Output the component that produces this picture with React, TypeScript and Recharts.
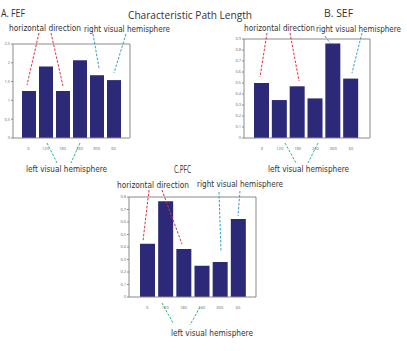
import React from 'react';
import { BarChart, Bar, XAxis, YAxis } from 'recharts';

// Direction categories (same order in all three panels)
const directions = ['0', '120', '180', '240', '300', '60'];

// Characteristic path length per direction
const fefValues = [1.25, 1.9, 1.25, 2.07, 1.67, 1.54];
const sefValues = [0.5, 0.345, 0.47, 0.36, 0.86, 0.54];
const pfcValues = [0.426, 0.766, 0.384, 0.25, 0.28, 0.625];

const fefTicks = [0, 0.5, 1, 1.5, 2, 2.5];
const sefTicks = [0, 0.1, 0.2, 0.3, 0.4, 0.5, 0.6, 0.7, 0.8, 0.9];
const pfcTicks = [0, 0.1, 0.2, 0.3, 0.4, 0.5, 0.6, 0.7, 0.8];

const BAR_COLOR = '#2d2979';
const BOX_COLOR = '#8a8a8a';
const RED = '#d9313f';
const CYAN = '#3b9cc4';
const GREEN = '#2fb38d';
const FONT = '"Open Sans", sans-serif';
const NARROW = '"Liberation Sans Narrow", "DejaVu Sans Condensed", "Open Sans", sans-serif';

interface PanelProps {
  values: number[];
  ticks: number[];
  left: number;
  top: number;
  width: number;
  height: number;
  axisWidth: number;
  margin: { top: number; right: number; bottom: number; left: number };
  padding: { left: number; right: number };
  barSize: number;
}

function Panel({ values, ticks, left, top, width, height, axisWidth, margin, padding, barSize }: PanelProps) {
  const data = directions.map((d, i) => ({ dir: d, value: values[i] }));
  const tickStyle = { fontSize: 4, fill: '#666', fontFamily: FONT };
  const yMax = ticks[ticks.length - 1];
  return (
    <div style={{ position: 'absolute', left, top }}>
      <BarChart width={width} height={height} data={data} margin={margin}>
        <XAxis
          xAxisId="b"
          dataKey="dir"
          height={14}
          padding={padding}
          tick={tickStyle}
          tickLine={false}
          tickMargin={3}
          stroke={BOX_COLOR}
        />
        <XAxis xAxisId="t" dataKey="dir" orientation="top" height={1} tick={false} tickLine={false} stroke={BOX_COLOR} />
        <YAxis
          yAxisId="l"
          width={axisWidth}
          domain={[0, yMax]}
          ticks={ticks}
          interval={0}
          tick={tickStyle}
          tickSize={2}
          tickMargin={1}
          stroke={BOX_COLOR}
        />
        <YAxis
          yAxisId="r"
          orientation="right"
          width={1}
          domain={[0, yMax]}
          ticks={ticks}
          tick={false}
          tickSize={2}
          stroke={BOX_COLOR}
        />
        <Bar xAxisId="b" yAxisId="l" dataKey="value" fill={BAR_COLOR} barSize={barSize} isAnimationActive={false} />
      </BarChart>
    </div>
  );
}

function Label({ x, y, w, size = 9, family = NARROW, children }: { x: number; y: number; w: number; size?: number; family?: string; children: string }) {
  return (
    <text x={x} y={y} textLength={w} lengthAdjust="spacingAndGlyphs" fontSize={size} fontFamily={family} fill="#333">
      {children}
    </text>
  );
}

function Dash({ x1, y1, x2, y2, color }: { x1: number; y1: number; x2: number; y2: number; color: string }) {
  return <line x1={x1} y1={y1} x2={x2} y2={y2} stroke={color} strokeWidth={1} strokeDasharray="2.5 1.5" />;
}

export default function App() {
  return (
    <div style={{ position: 'absolute', left: 0, top: 0, width: 407, height: 351, background: '#fff', overflow: 'hidden' }}>
      <Panel
        values={fefValues}
        ticks={fefTicks}
        left={0}
        top={0}
        width={140}
        height={160}
        axisWidth={13}
        margin={{ top: 43, right: 9, bottom: 8, left: 0 }}
        padding={{ left: 7, right: 8 }}
        barSize={14}
      />
      <Panel
        values={sefValues}
        ticks={sefTicks}
        left={230}
        top={0}
        width={150}
        height={160}
        axisWidth={14}
        margin={{ top: 38, right: 9, bottom: 8, left: 0 }}
        padding={{ left: 9, right: 10 }}
        barSize={15}
      />
      <Panel
        values={pfcValues}
        ticks={pfcTicks}
        left={115}
        top={160}
        width={150}
        height={160}
        axisWidth={14}
        margin={{ top: 36, right: 8, bottom: 9, left: 0 }}
        padding={{ left: 9, right: 9 }}
        barSize={15}
      />

      {/* titles and annotations */}
      <svg width={407} height={351} style={{ position: 'absolute', left: 0, top: 0, pointerEvents: 'none' }}>
        <Label x={1} y={17} w={24} size={10.5} family={FONT}>A. FEF</Label>
        <Label x={128} y={19} w={124} size={10.5} family={FONT}>Characteristic Path Length</Label>
        <Label x={324} y={17} w={29} size={10.5} family={FONT}>B. SEF</Label>
        <Label x={174} y={173} w={17} size={10.5} family={FONT}>C.PFC</Label>

        {/* A */}
        <Label x={9} y={31} w={72}>horizontal direction</Label>
        <Label x={84} y={32} w={86}>right visual hemisphere</Label>
        <Label x={26} y={172} w={81}>left visual hemisphere</Label>
        <Dash x1={39} y1={33} x2={27} y2={85} color={RED} />
        <Dash x1={51} y1={33} x2={63} y2={86} color={RED} />
        <Dash x1={93} y1={34} x2={99} y2={68} color={CYAN} />
        <Dash x1={126} y1={34} x2={114} y2={73} color={CYAN} />
        <Dash x1={47} y1={143} x2={57} y2={163} color={GREEN} />
        <Dash x1={80} y1={143} x2={71} y2={163} color={GREEN} />

        {/* B */}
        <Label x={244} y={31} w={71}>horizontal direction</Label>
        <Label x={316} y={32} w={85} size={8.5}>right visual hemisphere</Label>
        <Label x={268} y={172} w={81}>left visual hemisphere</Label>
        <Dash x1={267} y1={33} x2={260} y2={77} color={RED} />
        <Dash x1={290} y1={33} x2={299} y2={81} color={RED} />
        <Dash x1={325} y1={36} x2={330} y2={43} color={CYAN} />
        <Dash x1={362} y1={33} x2={352} y2={73} color={CYAN} />
        <Dash x1={285} y1={143} x2={296} y2={163} color={GREEN} />
        <Dash x1={318} y1={143} x2={308} y2={163} color={GREEN} />

        {/* C */}
        <Label x={117} y={188} w={72}>horizontal direction</Label>
        <Label x={197} y={187} w={86}>right visual hemisphere</Label>
        <Label x={171} y={336} w={82}>left visual hemisphere</Label>
        <Dash x1={149} y1={190} x2={143} y2={241} color={RED} />
        <Dash x1={162} y1={190} x2={182} y2={244} color={RED} />
        <Dash x1={219} y1={192} x2={221} y2={251} color={CYAN} />
        <Dash x1={240} y1={191} x2={238} y2={216} color={CYAN} />
        <Dash x1={162} y1={303} x2={173} y2={323} color={GREEN} />
        <Dash x1={200} y1={307} x2={190} y2={325} color={GREEN} />
      </svg>
    </div>
  );
}
